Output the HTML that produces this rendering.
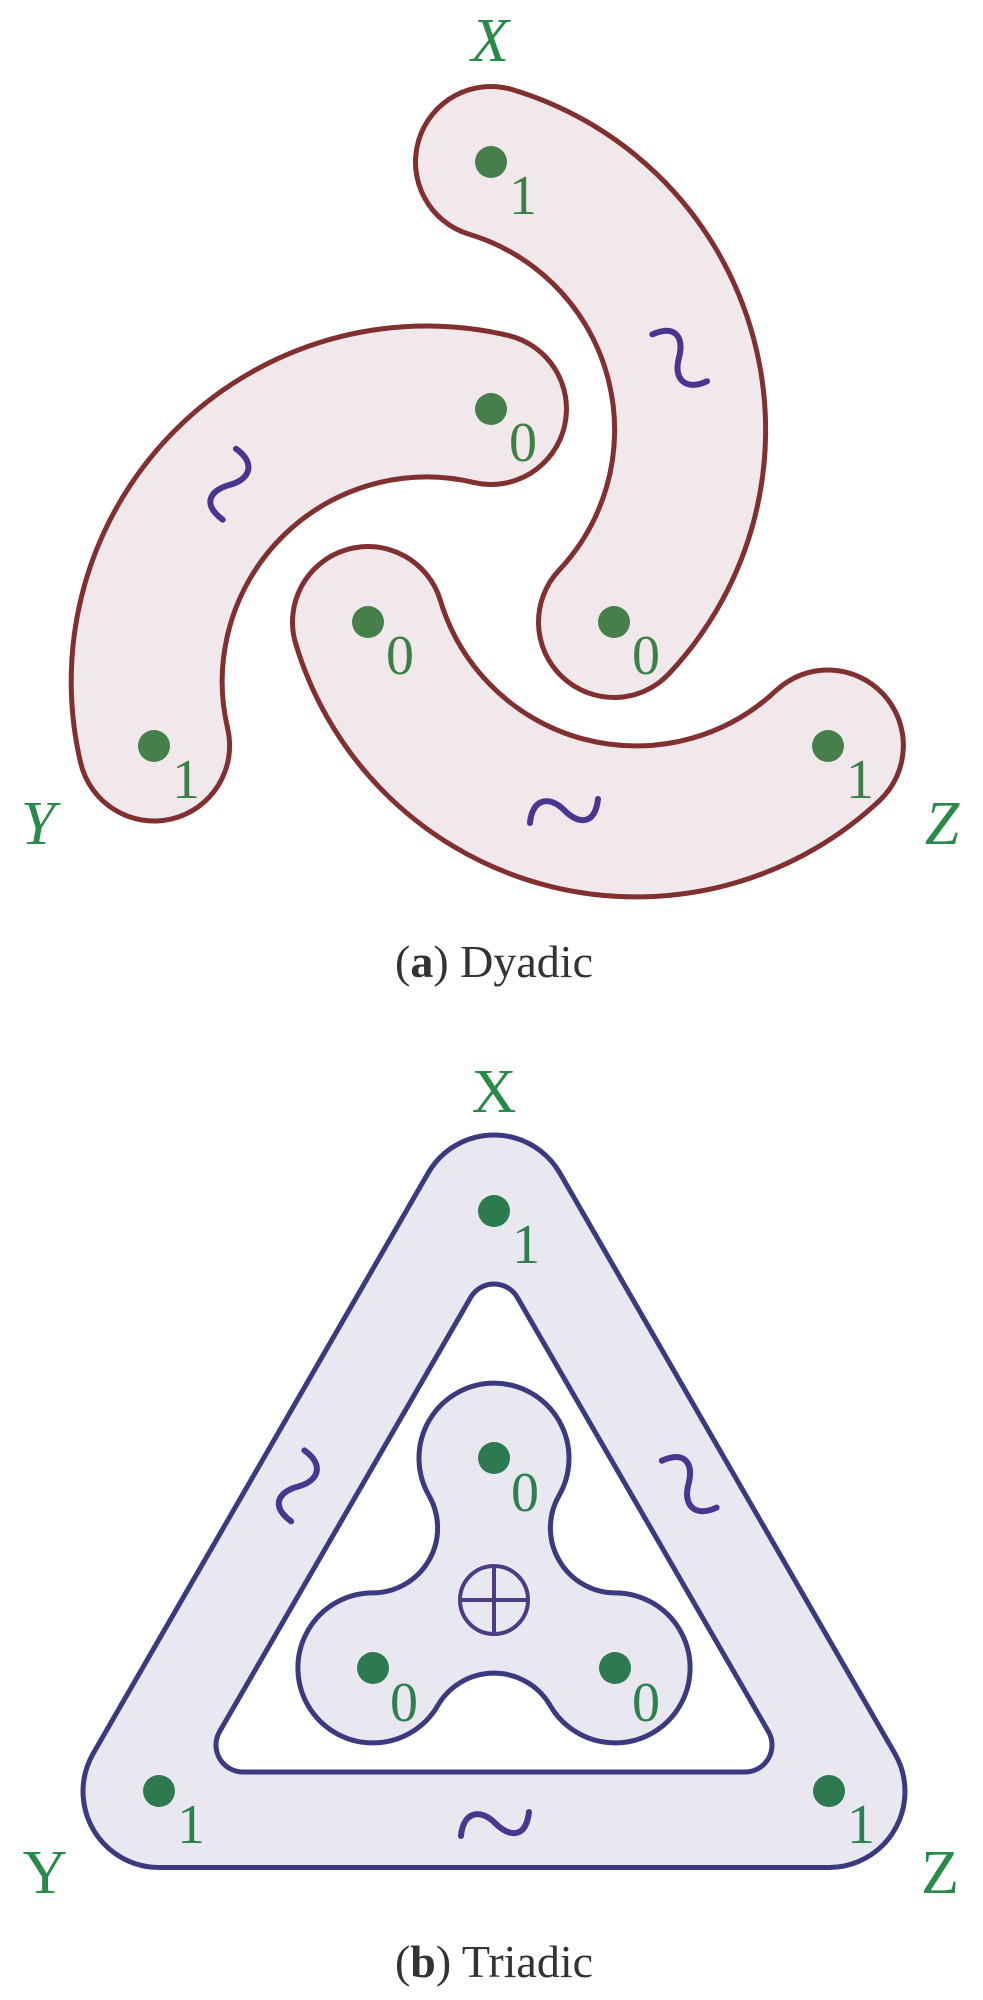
<!DOCTYPE html>
<html><head><meta charset="utf-8"><style>
html,body{margin:0;padding:0;background:#fff;}
svg{display:block;}
text{font-family:"Liberation Serif",serif;}
</style></head><body>
<svg width="983" height="2000" viewBox="0 0 983 2000" xmlns="http://www.w3.org/2000/svg">
<defs>
  <path id="tl" d="M -34 13 C -32 -11, -15 -15, 0 0 S 31 15, 34 -11" fill="none" stroke="#4a3590" stroke-width="6" stroke-linecap="round"/>
  <g id="band">
    <path d="M 491 162 A 280 280 0 0 1 614 622" fill="none" stroke="#822f30" stroke-width="156" stroke-linecap="round"/>
    <path d="M 491 162 A 280 280 0 0 1 614 622" fill="none" stroke="#f0e8ea" stroke-width="146" stroke-linecap="round"/>
    <g transform="rotate(240 491 551)"><use href="#tl" transform="translate(564 810)"/></g>
  </g>
  <g id="ttl"><use href="#tl" transform="translate(495 1823)"/></g>
</defs>

<!-- Dyadic -->
<use href="#band"/>
<use href="#band" transform="rotate(120 491 551)"/>
<use href="#band" transform="rotate(240 491 551)"/>

<g fill="#467f4a">
  <circle cx="491" cy="162" r="16"/>
  <circle cx="491" cy="409" r="16"/>
  <circle cx="154" cy="746" r="16"/>
  <circle cx="828" cy="746" r="16"/>
  <circle cx="614" cy="622" r="16"/>
  <circle cx="368" cy="622" r="16"/>
</g>
<g fill="#3d7f45" font-size="56" text-anchor="middle">
  <text x="523" y="214">1</text>
  <text x="523" y="461">0</text>
  <text x="186" y="798">1</text>
  <text x="860" y="798">1</text>
  <text x="646" y="674">0</text>
  <text x="400" y="674">0</text>
</g>
<g fill="#2a8a4a" font-size="62" font-style="italic" text-anchor="middle">
  <text x="490" y="61">X</text>
  <text x="38" y="844">Y</text>
  <text x="942" y="844">Z</text>
</g>
<text x="494" y="977" font-size="46" text-anchor="middle" fill="#333">(<tspan font-weight="bold">a</tspan>) Dyadic</text>

<!-- Triadic -->
<polygon points="494,1211 159,1791.5 829,1791.5" fill="#e9e8f0" stroke="#3b3a80" stroke-width="157" stroke-linejoin="round"/>
<polygon points="494,1211 159,1791.5 829,1791.5" fill="#e9e8f0" stroke="#e9e8f0" stroke-width="147" stroke-linejoin="round"/>
<polygon points="494,1311 243,1745 745,1745" fill="#fff" stroke="#3b3a80" stroke-width="59" stroke-linejoin="round"/>
<polygon points="494,1311 243,1745 745,1745" fill="#fff" stroke="#fff" stroke-width="49" stroke-linejoin="round"/>
<path d="M 429 1495.6 A 75 75 0 1 1 559 1495.6 A 65 65 0 0 0 615.2 1592.9 A 75 75 0 1 1 550.2 1705.5 A 65 65 0 0 0 437.8 1705.5 A 75 75 0 1 1 372.8 1592.9 A 65 65 0 0 0 429 1495.6 Z" fill="#e9e8f0" stroke="#3b3a80" stroke-width="5"/>

<use href="#ttl"/>
<use href="#ttl" transform="rotate(120 494 1598)"/>
<use href="#ttl" transform="rotate(240 494 1598)"/>

<g fill="none" stroke="#4e3a85" stroke-width="4">
  <circle cx="494" cy="1600" r="34"/>
  <line x1="460" y1="1600" x2="528" y2="1600"/>
  <line x1="494" y1="1566" x2="494" y2="1634"/>
</g>

<g fill="#2e7a50">
  <circle cx="494" cy="1211" r="16"/>
  <circle cx="159" cy="1791" r="16"/>
  <circle cx="829" cy="1791" r="16"/>
  <circle cx="494" cy="1458" r="16"/>
  <circle cx="615" cy="1668" r="16"/>
  <circle cx="373" cy="1668" r="16"/>
</g>
<g fill="#2e8050" font-size="56" text-anchor="middle">
  <text x="526" y="1263">1</text>
  <text x="191" y="1843">1</text>
  <text x="861" y="1843">1</text>
  <text x="525" y="1511">0</text>
  <text x="646" y="1721">0</text>
  <text x="404" y="1721">0</text>
</g>
<g fill="#2a8a4a" font-size="62" text-anchor="middle">
  <text x="494" y="1112">X</text>
  <text x="45" y="1893">Y</text>
  <text x="940" y="1893">Z</text>
</g>
<text x="494" y="1977" font-size="46" text-anchor="middle" fill="#333">(<tspan font-weight="bold">b</tspan>) Triadic</text>
</svg>
</body></html>
